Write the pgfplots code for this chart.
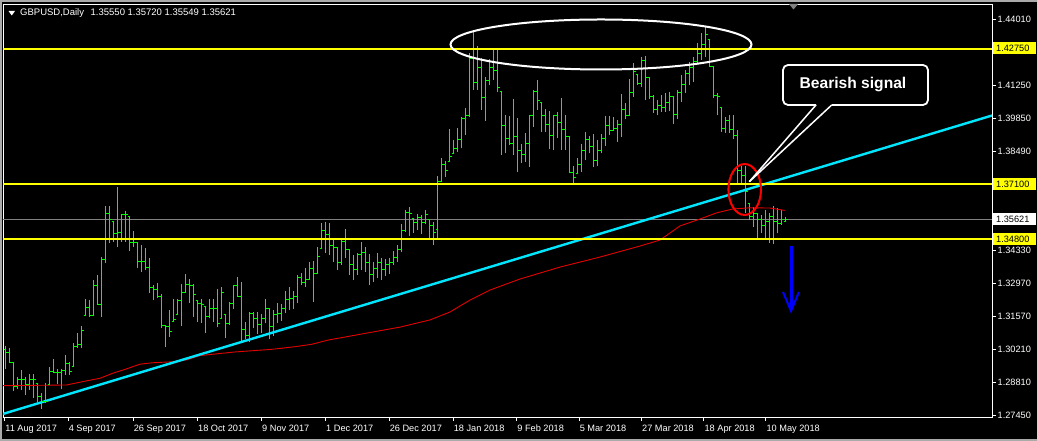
\documentclass[border=0pt]{standalone}
\usepackage{fontspec}
\setmainfont{Liberation Sans}
\usepackage{pgfplots}
\pgfplotsset{compat=1.18}
\usepackage{pgfplotstable}

\definecolor{barcol}{RGB}{0,255,0}
\definecolor{trend}{RGB}{0,230,255}
\definecolor{ylw}{RGB}{255,255,0}
\definecolor{marow}{RGB}{230,0,0}
\definecolor{frameg}{RGB}{170,170,170}

\pgfdeclareplotmark{otick}{\pgfpathmoveto{\pgfpoint{-2pt}{0pt}}\pgfpathlineto{\pgfpoint{0pt}{0pt}}\pgfusepathqstroke}
\pgfdeclareplotmark{ctick}{\pgfpathmoveto{\pgfpoint{0pt}{0pt}}\pgfpathlineto{\pgfpoint{2pt}{0pt}}\pgfusepathqstroke}

\pgfplotstableread{
i O H L C
0 1.3020 1.3035 1.2938 1.3008
1 1.3008 1.3027 1.2964 1.2964
2 1.2964 1.2968 1.2847 1.2864
3 1.2864 1.2906 1.2854 1.2892
4 1.2892 1.2934 1.2850 1.2892
5 1.2892 1.2906 1.2829 1.2871
6 1.2871 1.2917 1.2850 1.2895
7 1.2895 1.2917 1.2815 1.2895
8 1.2878 1.2878 1.2801 1.2822
9 1.2822 1.2836 1.2771 1.2801
10 1.2801 1.2881 1.2794 1.2801
11 1.2875 1.2945 1.2875 1.2927
12 1.2927 1.2980 1.2920 1.2924
13 1.2924 1.2938 1.2875 1.2924
14 1.2924 1.2938 1.2853 1.2931
15 1.2931 1.2996 1.2913 1.2962
16 1.2962 1.2968 1.2913 1.2927
17 1.2950 1.3045 1.2950 1.3031
18 1.3031 1.3087 1.3024 1.3042
19 1.3042 1.3119 1.3024 1.3098
20 1.3161 1.3229 1.3161 1.3197
21 1.3197 1.3226 1.3157 1.3161
22 1.3161 1.3310 1.3161 1.3285
23 1.3285 1.3331 1.3206 1.3208
24 1.3208 1.3405 1.3154 1.3397
25 1.3397 1.3620 1.3382 1.3589
26 1.3589 1.3620 1.3464 1.3561
27 1.3554 1.3554 1.3470 1.3505
28 1.3505 1.3700 1.3449 1.3510
29 1.3510 1.3586 1.3468 1.3582
30 1.3582 1.3599 1.3470 1.3582
31 1.3575 1.3575 1.3431 1.3466
32 1.3466 1.3516 1.3449 1.3466
33 1.3466 1.3470 1.3362 1.3387
34 1.3387 1.3456 1.3342 1.3387
35 1.3387 1.3443 1.3352 1.3363
36 1.3363 1.3403 1.3257 1.3280
37 1.3280 1.3289 1.3226 1.3271
38 1.3271 1.3296 1.3234 1.3240
39 1.3240 1.3250 1.3108 1.3118
40 1.3118 1.3122 1.3029 1.3115
41 1.3115 1.3185 1.3073 1.3094
42 1.3136 1.3229 1.3136 1.3143
43 1.3164 1.3229 1.3164 1.3223
44 1.3223 1.3292 1.3119 1.3257
45 1.3257 1.3335 1.3255 1.3290
46 1.3290 1.3314 1.3215 1.3289
47 1.3289 1.3292 1.3154 1.3250
48 1.3226 1.3226 1.3136 1.3210
49 1.3210 1.3231 1.3132 1.3206
50 1.3201 1.3201 1.3087 1.3157
51 1.3157 1.3231 1.3150 1.3192
52 1.3192 1.3231 1.3133 1.3192
53 1.3192 1.3272 1.3112 1.3129
54 1.3150 1.3280 1.3150 1.3259
55 1.3164 1.3164 1.3069 1.3129
56 1.3129 1.3217 1.3122 1.3210
57 1.3210 1.3289 1.3189 1.3286
58 1.3286 1.3321 1.3240 1.3243
59 1.3243 1.3300 1.3048 1.3101
60 1.3101 1.3133 1.3062 1.3077
61 1.3077 1.3175 1.3052 1.3171
62 1.3171 1.3175 1.3108 1.3150
63 1.3150 1.3178 1.3084 1.3122
64 1.3122 1.3168 1.3087 1.3147
65 1.3147 1.3231 1.3129 1.3192
66 1.3189 1.3189 1.3062 1.3115
67 1.3115 1.3185 1.3077 1.3164
68 1.3164 1.3213 1.3129 1.3171
69 1.3171 1.3208 1.3139 1.3192
70 1.3192 1.3265 1.3171 1.3230
71 1.3230 1.3280 1.3185 1.3234
72 1.3234 1.3265 1.3189 1.3240
73 1.3240 1.3331 1.3213 1.3321
74 1.3321 1.3338 1.3289 1.3300
75 1.3300 1.3359 1.3280 1.3313
76 1.3313 1.3387 1.3310 1.3360
77 1.3360 1.3391 1.3219 1.3338
78 1.3338 1.3449 1.3338 1.3408
79 1.3443 1.3550 1.3443 1.3519
80 1.3519 1.3551 1.3422 1.3500
81 1.3500 1.3547 1.3415 1.3456
82 1.3456 1.3482 1.3385 1.3444
83 1.3444 1.3444 1.3352 1.3385
84 1.3385 1.3486 1.3373 1.3469
85 1.3469 1.3523 1.3402 1.3436
86 1.3436 1.3436 1.3331 1.3373
87 1.3373 1.3415 1.3310 1.3352
88 1.3352 1.3423 1.3331 1.3415
89 1.3415 1.3469 1.3352 1.3427
90 1.3427 1.3448 1.3344 1.3385
91 1.3385 1.3419 1.3289 1.3331
92 1.3331 1.3385 1.3302 1.3360
93 1.3360 1.3423 1.3318 1.3385
94 1.3385 1.3402 1.3310 1.3352
95 1.3352 1.3398 1.3327 1.3373
96 1.3373 1.3402 1.3335 1.3385
97 1.3385 1.3431 1.3373 1.3406
98 1.3406 1.3456 1.3385 1.3436
99 1.3436 1.3543 1.3428 1.3519
100 1.3519 1.3603 1.3512 1.3592
101 1.3592 1.3614 1.3495 1.3589
102 1.3568 1.3568 1.3505 1.3550
103 1.3550 1.3585 1.3519 1.3570
104 1.3570 1.3582 1.3502 1.3550
105 1.3550 1.3603 1.3544 1.3582
106 1.3562 1.3562 1.3480 1.3540
107 1.3540 1.3554 1.3456 1.3508
108 1.3520 1.3745 1.3486 1.3724
109 1.3724 1.3819 1.3721 1.3791
110 1.3791 1.3808 1.3742 1.3770
111 1.3805 1.3942 1.3805 1.3826
112 1.3840 1.3896 1.3840 1.3858
113 1.3858 1.3946 1.3847 1.3896
114 1.3896 1.3990 1.3861 1.3986
115 1.3986 1.4028 1.3916 1.3996
116 1.3996 1.4260 1.3993 1.4237
117 1.4237 1.4348 1.4105 1.4137
118 1.4137 1.4289 1.4105 1.4200
119 1.4200 1.4237 1.4021 1.4074
120 1.4074 1.4160 1.3976 1.4144
121 1.4144 1.4234 1.4126 1.4200
122 1.4200 1.4279 1.4146 1.4185
123 1.4185 1.4279 1.4098 1.4116
124 1.4098 1.4098 1.3833 1.3955
125 1.3955 1.3999 1.3840 1.3900
126 1.3900 1.3996 1.3876 1.3879
127 1.3879 1.4066 1.3833 1.3909
128 1.3909 1.3986 1.3763 1.3850
129 1.3850 1.3878 1.3798 1.3836
130 1.3836 1.3926 1.3805 1.3880
131 1.3880 1.3999 1.3784 1.3997
132 1.3997 1.4105 1.3951 1.4100
133 1.4100 1.4146 1.4021 1.4060
134 1.4052 1.4052 1.3930 1.3996
135 1.3996 1.4024 1.3930 1.3960
136 1.3960 1.4017 1.3857 1.3914
137 1.3914 1.3999 1.3854 1.3997
138 1.3997 1.4014 1.3903 1.3968
139 1.3968 1.4070 1.3854 1.3940
140 1.3940 1.3999 1.3854 1.3909
141 1.3909 1.3912 1.3756 1.3759
142 1.3759 1.3787 1.3707 1.3740
143 1.3756 1.3819 1.3756 1.3795
144 1.3795 1.3879 1.3763 1.3850
145 1.3850 1.3928 1.3812 1.3896
146 1.3896 1.3912 1.3840 1.3870
147 1.3870 1.3921 1.3781 1.3808
148 1.3808 1.3896 1.3787 1.3850
149 1.3850 1.3921 1.3840 1.3903
150 1.3903 1.3996 1.3872 1.3958
151 1.3958 1.3996 1.3916 1.3935
152 1.3937 1.3990 1.3937 1.3942
153 1.3942 1.3979 1.3888 1.3960
154 1.3960 1.4088 1.3907 1.4024
155 1.4024 1.4049 1.3982 1.3997
156 1.3997 1.4149 1.3996 1.4095
157 1.4095 1.4219 1.4077 1.4180
158 1.4170 1.4170 1.4126 1.4133
159 1.4133 1.4244 1.4118 1.4227
160 1.4227 1.4247 1.4063 1.4158
161 1.4158 1.4160 1.4066 1.4077
162 1.4077 1.4084 1.4010 1.4021
163 1.4021 1.4063 1.3999 1.4040
164 1.4040 1.4084 1.4014 1.4031
165 1.4031 1.4093 1.4014 1.4053
166 1.4053 1.4098 1.4017 1.4077
167 1.4077 1.4077 1.3962 1.4003
168 1.4003 1.4105 1.3982 1.4093
169 1.4093 1.4167 1.4056 1.4128
170 1.4128 1.4188 1.4093 1.4174
171 1.4174 1.4223 1.4126 1.4200
172 1.4200 1.4244 1.4139 1.4223
173 1.4223 1.4300 1.4216 1.4258
174 1.4258 1.4344 1.4230 1.4293
175 1.4293 1.4369 1.4244 1.4335
176 1.4314 1.4314 1.4202 1.4202
177 1.4202 1.4202 1.4070 1.4080
178 1.4080 1.4091 1.3999 1.4077
179 1.4032 1.4032 1.3930 1.3944
180 1.3944 1.3993 1.3924 1.3979
181 1.3979 1.3999 1.3924 1.3940
182 1.3940 1.3999 1.3898 1.3916
183 1.3916 1.3937 1.3714 1.3770
184 1.3770 1.3787 1.3717 1.3749
185 1.3749 1.3787 1.3592 1.3679
186 1.3631 1.3631 1.3561 1.3575
187 1.3575 1.3617 1.3533 1.3590
188 1.3589 1.3589 1.3484 1.3564
189 1.3564 1.3582 1.3505 1.3540
190 1.3540 1.3603 1.3484 1.3554
191 1.3554 1.3589 1.3464 1.3575
192 1.3575 1.3620 1.3461 1.3554
193 1.3554 1.3610 1.3505 1.3547
194 1.3547 1.3603 1.3540 1.3561
195 1.35550 1.35720 1.35549 1.35621
}\ohlc

\pgfplotstableread{
i P
-0.7 1.2868
15.25 1.2871
19.3 1.2885
23.6 1.2899
26.8 1.2920
30.2 1.2938
33.6 1.2958
36.8 1.2964
41.8 1.2968
45.3 1.2976
48.6 1.2994
57.3 1.3009
66.5 1.3020
72.3 1.3031
76.5 1.3041
80.7 1.3059
98.6 1.3113
106.1 1.3143
111.1 1.3176
116.1 1.3226
121.1 1.3268
128.6 1.3314
138.6 1.3364
148.6 1.3406
158.6 1.3452
163.6 1.3477
168.6 1.3536
173.6 1.3565
177.8 1.3591
181.8 1.3607
186.1 1.3612
191.1 1.3611
194.8 1.3601
}\ma

\begin{document}
\begin{tikzpicture}
\fill[black] (0,0) rectangle (1037pt,441pt);
\useasboundingbox (0,0) rectangle (1037pt,441pt);
\begin{axis}[
  at={(3pt,24pt)}, anchor=south west,
  scale only axis, width=989pt, height=413pt,
  xmin=-0.625, xmax=246.625, ymin=1.27371, ymax=1.44643,
  axis line style={white, line width=0.9pt},
  tick align=outside, major tick length=4pt,
  tick style={white, line width=0.9pt},
  xtick pos=left, ytick pos=right,
  xticklabel pos=left, yticklabel pos=right,
  xtick={-0.2,15.65,31.9,48,64,80,95.9,111.9,127.8,143.4,159,174.6,190.1},
  xticklabels={11 Aug 2017,4 Sep 2017,26 Sep 2017,18 Oct 2017,9 Nov 2017,1 Dec 2017,26 Dec 2017,18 Jan 2018,9 Feb 2018,5 Mar 2018,27 Mar 2018,18 Apr 2018,10 May 2018},
  ytick={1.2745,1.2881,1.3021,1.3157,1.3297,1.3433,1.3849,1.3985,1.4125,1.4401},
  yticklabels={1.27450,1.28810,1.30210,1.31570,1.32970,1.34330,1.38490,1.39850,1.41250,1.44010},
  scaled y ticks=false,
  xticklabel style={anchor=north west, inner sep=0pt, xshift=0.5pt, yshift=-3.5pt, font=\fontsize{9.2}{11}\selectfont, text=white},
  yticklabel style={anchor=west, inner sep=0pt, xshift=1.5pt, font=\fontsize{9.2}{11}\selectfont, text=white},
]
% current price line
\addplot[gray, line width=0.9pt] coordinates {(-0.625,1.35621) (246.625,1.35621)};
% high-low ranges (quiver segments from low to high)
\addplot[draw=barcol, color=barcol, line width=1.1pt, mark=none, -,
  quiver={u=0, v=\thisrow{H}-\thisrow{L}, every arrow/.append style={draw=barcol, line width=1.1pt}}]
  table[x=i, y=L] {\ohlc};
\addplot[only marks, mark=otick, mark options={draw=barcol, line width=1pt}] table[x=i, y=O] {\ohlc};
\addplot[only marks, mark=ctick, mark options={draw=barcol, line width=1pt}] table[x=i, y=C] {\ohlc};
% moving average
\addplot[marow, line width=0.9pt] table[x=i, y=P] {\ma};
% trend line
\addplot[trend, line width=2.4pt] coordinates {(-0.625,1.2750) (246.625,1.3998)};
% levels
\addplot[ylw, line width=1.8pt] coordinates {(-0.625,1.4275) (246.625,1.4275)};
\addplot[ylw, line width=1.8pt] coordinates {(-0.625,1.3710) (246.625,1.3710)};
\addplot[ylw, line width=1.8pt] coordinates {(-0.625,1.3480) (246.625,1.3480)};
\end{axis}
\begin{scope}[x=1pt, y=-1pt, shift={(0pt,441pt)}]
  % window border
  \draw[frameg, line width=2pt] (1,441) -- (1,1) -- (1037,1);
  \draw[frameg, line width=2pt] (0,440) -- (1037,440);
  % title
  \fill[white] (8.5,11) -- (15,11) -- (11.75,15.5) -- cycle;
  \node[anchor=base west, inner sep=0pt, text=white, font=\fontsize{9.5}{11}\selectfont] at (20,16) {GBPUSD,Daily};
  \node[anchor=base west, inner sep=0pt, text=white, font=\fontsize{9.5}{11}\selectfont] at (90.5,16) {1.35550 1.35720 1.35549 1.35621};
  % shift marker
  \fill[gray] (789,4) -- (798,4) -- (793.5,9.5) -- cycle;
  % price labels
  \fill[ylw] (993,42) rectangle (1036,54);
  \node[anchor=west, inner sep=0pt, text=black, font=\fontsize{9.2}{11}\selectfont] at (996,48) {1.42750};
  \fill[ylw] (993,178) rectangle (1036,190);
  \node[anchor=west, inner sep=0pt, text=black, font=\fontsize{9.2}{11}\selectfont] at (996,184) {1.37100};
  \fill[white] (993,213.5) rectangle (1036,225.5);
  \node[anchor=west, inner sep=0pt, text=black, font=\fontsize{9.2}{11}\selectfont] at (996,219.5) {1.35621};
  \fill[ylw] (993,233) rectangle (1036,245);
  \node[anchor=west, inner sep=0pt, text=black, font=\fontsize{9.2}{11}\selectfont] at (996,239) {1.34800};
  % white ellipse around tops
  \draw[white, line width=2pt] (601,44.5) ellipse [x radius=150.5, y radius=25];
  % red ellipse
  \draw[red, line width=2pt] (744.7,189.5) ellipse [x radius=16.3, y radius=25.5];
  % callout
  \fill[black, rounded corners=5pt] (783,65) rectangle (928,105);
  \fill[black] (749.3,181.7) -- (816,104) -- (831.7,104) -- cycle;
  \draw[white, line width=1.5pt] (749.3,181.7) -- (816,105);
  \draw[white, line width=1.5pt] (749.3,181.7) -- (831.7,105);
  \draw[white, line width=1.8pt, rounded corners=5pt] (831.7,105) -- (928,105) -- (928,65) -- (783,65) -- (783,105) -- (816,105);
  \node[text=white, inner sep=0pt, font=\fontsize{15.6}{18}\selectfont\bfseries] at (853,85) {Bearish signal};
  % blue arrow
  \draw[blue, line width=3pt] (791,246) -- (791,308);
  \draw[blue, line width=2pt, line join=miter] (783,292) -- (791,311) -- (799,292);
\end{scope}
\end{tikzpicture}
\end{document}
